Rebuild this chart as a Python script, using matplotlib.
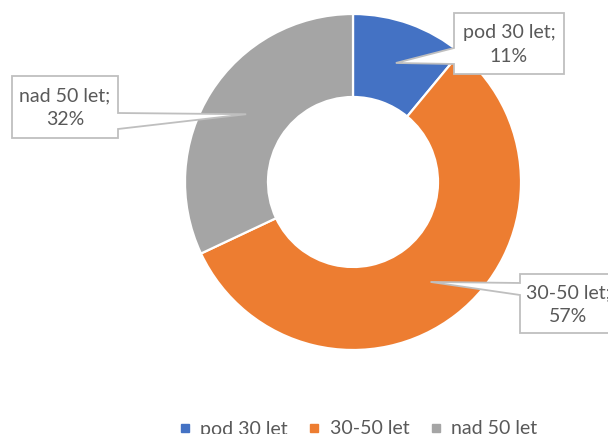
import numpy as np
import matplotlib
matplotlib.use("Agg")
import matplotlib.pyplot as plt
from matplotlib.patches import Polygon
from matplotlib.lines import Line2D

categories = ["pod 30 let", "30-50 let", "nad 50 let"]
values = [11, 57, 32]
colors = ["#4472C4", "#ED7D31", "#A5A5A5"]

W, H = 608, 434
plt.rcParams['font.family'] = ['Lato', 'DejaVu Sans']
TXT = "#595959"
BORDER = "#BFBFBF"

fig = plt.figure(figsize=(W / 100, H / 100), dpi=100)
ax = fig.add_axes([0, 0, 1, 1])

cx, cy = 353, H - 182
r_out, r_in = 168, 85
wedges, _ = ax.pie(values, colors=colors, startangle=90, counterclock=False,
                   center=(cx, cy), radius=r_out,
                   wedgeprops=dict(width=r_out - r_in, edgecolor="white", linewidth=1.6))
ax.set_xlim(0, W)
ax.set_ylim(0, H)
ax.set_aspect('equal')
ax.axis('off')

# callout layout: box (left, top, right, bottom) in image px, pointer side, base y range
layout = [
    dict(box=(454, 13, 564, 74), side='left', base=(48, 64)),
    dict(box=(520, 274, 617, 333), side='left', base=(283, 295)),
    dict(box=(12, 76, 118, 138), side='right', base=(113, 129)),
]

rmid = (r_out + r_in) / 2
for w, cat, val, lay in zip(wedges, categories, values, layout):
    ang = np.deg2rad((w.theta1 + w.theta2) / 2)
    tx, ty = cx + rmid * np.cos(ang), cy + rmid * np.sin(ang)
    l, t, r, b = lay['box']
    b0, b1 = lay['base']
    fy = lambda y: H - y
    if lay['side'] == 'left':
        verts = [(l, fy(t)), (r, fy(t)), (r, fy(b)), (l, fy(b)), (l, fy(b1)),
                 (tx, ty), (l, fy(b0))]
    else:
        verts = [(l, fy(t)), (r, fy(t)), (r, fy(b0)), (tx, ty), (r, fy(b1)),
                 (r, fy(b)), (l, fy(b))]
    ax.add_patch(Polygon(verts, closed=True, facecolor="white", edgecolor=BORDER,
                         linewidth=1.3, zorder=5))
    ax.text((l + r) / 2, H - (t + b) / 2 - 1, f"{cat};\n{val}%", ha='center', va='center',
            fontsize=14, color=TXT, linespacing=1.45, zorder=6)

handles = [Line2D([], [], marker='s', linestyle='none', markersize=5.5,
                  markerfacecolor=c, markeredgecolor=c) for c in colors]
fig.legend(handles, categories, loc='center', bbox_to_anchor=(358 / W, 1 - 429 / H),
           ncol=3, frameon=False, fontsize=14, labelcolor=TXT, handlelength=0.6,
           handletextpad=0.5, columnspacing=1.05, borderpad=0)

fig.savefig("out.png", dpi=100)
